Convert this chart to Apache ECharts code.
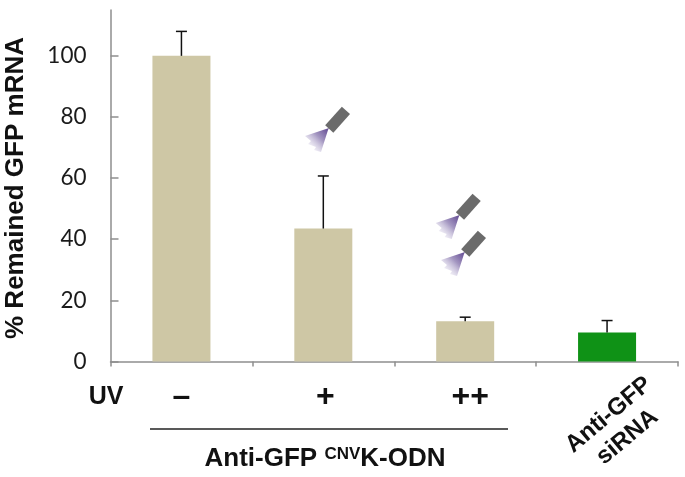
<!DOCTYPE html>
<html><head><meta charset="utf-8">
<style>html,body{margin:0;padding:0;background:#fff}#c{width:685px;height:477px}</style>
<script src="https://cdn.jsdelivr.net/npm/echarts@6/dist/echarts.min.js"></script>
</head><body><div id="c"></div>
<script>
const categories = ['–', '+', '++', 'Anti-GFP\nsiRNA'];
const values = [100, 43.5, 13.2, 9.5];
const errorTops = [108, 60.7, 14.5, 13.4];
const barColors = ['#CEC7A5', '#CEC7A5', '#CEC7A5', '#0F9216'];
const yTicks = [0, 20, 40, 60, 80, 100];
const yTitle = '% Remained GFP mRNA';
const uvLabel = 'UV';

const B = 'Liberation Sans';
function torch(dx, dy) {
  return {
    type: 'group', x: dx, y: dy, silent: true,
    children: [
      { type: 'polygon', shape: { points: [[329,128],[305,136],[311,141],[308,144],[316,147],[314,150],[321,152],[328,130]] },
        style: { fill: new echarts.graphic.LinearGradient(1, 0, 0, 1, [
          { offset: 0, color: '#5f4690' }, { offset: 0.4, color: '#a598c2' }, { offset: 0.9, color: 'rgba(240,238,248,0.25)' }]) } },
      { type: 'rect', x: 337.6, y: 119.7, rotation: 0.84,
        shape: { x: -12.5, y: -5.5, width: 25, height: 11 }, style: { fill: '#6B6B6B' } }
    ]
  };
}
const labelFont = { fontFamily: B, fontWeight: 'bold', fontSize: 32, color: '#111' };
const chart = echarts.init(document.getElementById('c'), null, { renderer: 'canvas' });
chart.setOption({
  animation: false,
  backgroundColor: '#fff',
  grid: { left: 110.5, right: 7, top: 10, bottom: 115.5 },
  xAxis: {
    type: 'category', data: categories,
    axisLine: { lineStyle: { color: '#8E8E8E', width: 1.5 } },
    axisTick: { show: true, length: 5, alignWithLabel: false, lineStyle: { color: '#8E8E8E', width: 1.5 } },
    axisLabel: { margin: 20, interval: 0, ...labelFont,
      rich: {
        a: { ...labelFont },
        b: { ...labelFont, padding: [0, 0, 0, 4] },
        c: { ...labelFont, padding: [0, 0, 0, 10] }
      },
      formatter: (v, i) => i === 3 ? '' : `{${'abc'[i]}|${v}}` }
  },
  yAxis: {
    type: 'value', min: 0, max: 115,
    axisLine: { show: true, lineStyle: { color: '#8E8E8E', width: 1.5 } },
    splitLine: { show: false },
    axisTick: { show: true, inside: true, length: 8, customValues: yTicks, lineStyle: { color: '#8E8E8E', width: 1.5 } },
    axisLabel: { customValues: yTicks, margin: 24, fontFamily: 'Lato', fontSize: 22.5, color: '#1a1a1a', padding: [2, 0, 0, 0] }
  },
  series: [
    { type: 'bar', barWidth: 58, data: values.map((v, i) => ({ value: v, itemStyle: { color: barColors[i] } })), z: 2 },
    { type: 'custom', z: 3, data: errorTops.map((t, i) => [i, values[i], t]),
      renderItem(p, api) {
        const a = api.coord([api.value(0), api.value(1)]);
        const b = api.coord([api.value(0), api.value(2)]);
        const st = { stroke: '#111', lineWidth: 1.5, fill: null };
        return { type: 'group', children: [
          { type: 'line', shape: { x1: a[0], y1: a[1], x2: b[0], y2: b[1] }, style: st },
          { type: 'line', shape: { x1: b[0] - 5.5, y1: b[1], x2: b[0] + 5.5, y2: b[1] }, style: st }
        ] };
      } }
  ],
  graphic: [
    torch(0, 0), torch(130.7, 87), torch(136, 124),
    { type: 'text', x: 16, y: 188, rotation: Math.PI / 2, silent: true,
      style: { text: yTitle, align: 'center', verticalAlign: 'middle', font: 'bold 26px "Liberation Sans"', fill: '#111' } },
    { type: 'text', x: 106, y: 397, silent: true,
      style: { text: uvLabel, align: 'center', verticalAlign: 'middle', font: 'bold 25px "Liberation Sans"', fill: '#111' } },
    { type: 'line', shape: { x1: 150, y1: 429, x2: 508, y2: 429 }, style: { stroke: '#222', lineWidth: 1.5 } },
    { type: 'text', x: 325, y: 459, silent: true,
      style: { text: 'Anti-GFP {s|CNV}K-ODN', align: 'center', verticalAlign: 'middle', font: 'bold 26px "Liberation Sans"', fill: '#111',
        rich: { s: { font: 'bold 17px "Liberation Sans"', fill: '#111', verticalAlign: 'top', padding: [0,0,8,0] } } } },
    { type: 'text', x: 618, y: 426, rotation: 0.7, silent: true,
      style: { text: categories[3], align: 'center', verticalAlign: 'middle', lineHeight: 29, font: 'bold 24px "Liberation Sans"', fill: '#111' } }
  ]
});
</script></body></html>
